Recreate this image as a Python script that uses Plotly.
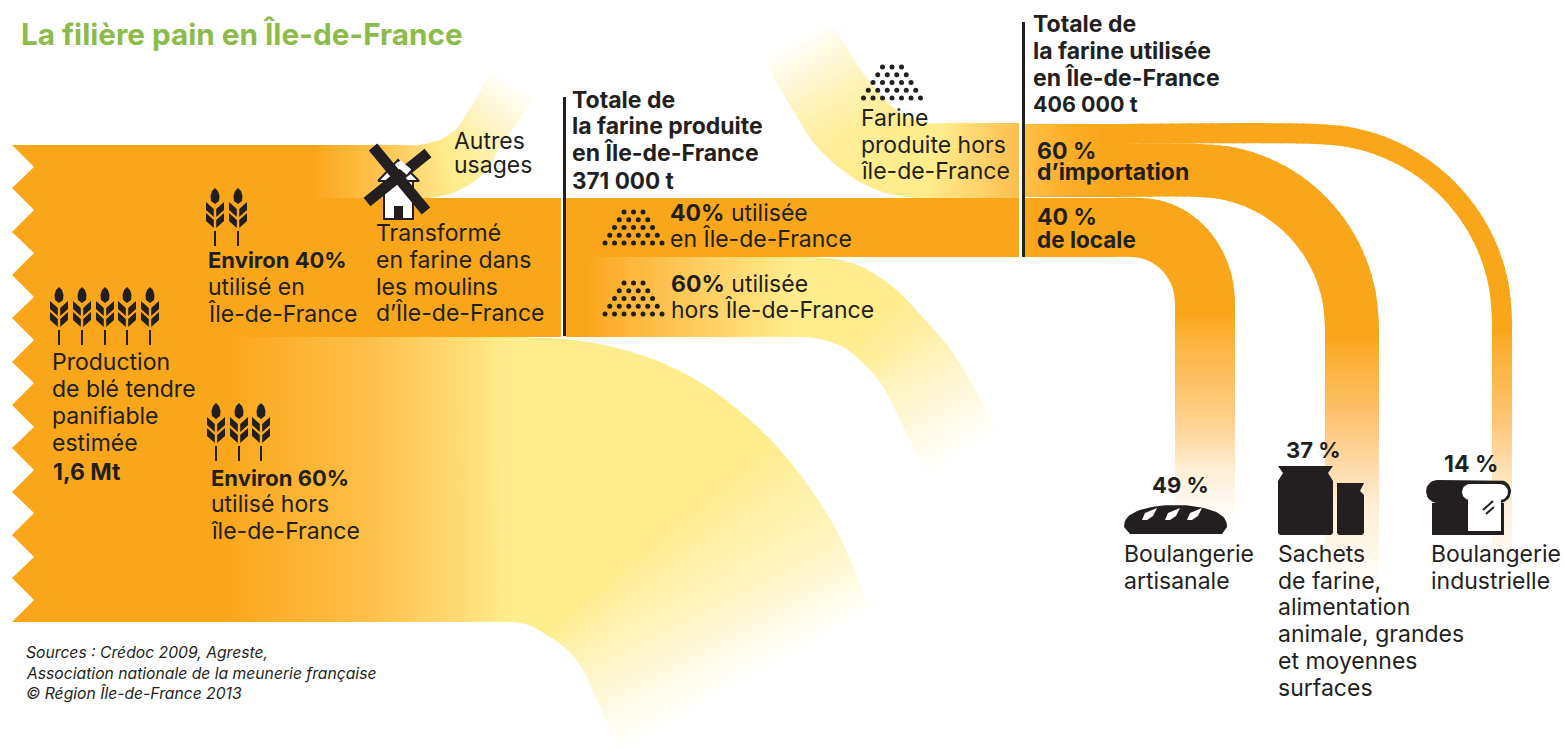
import numpy as np
import plotly.graph_objects as go

W, H = 1564, 749
ORANGE = "#FAA61A"; YELLOW = "#FFEC8C"; WHITE = "#FFFFFF"; INK = "#231F20"; GREEN = "#8DBB4A"
BODY_FONT = "Inter"; BODY_SIZE = 23

# ---- flows: cross-sections (edge A, edge B, colour) along each ribbon ----
WHEAT_OUT = [((200,337),(200,622),ORANGE),((225,337),(225,622),ORANGE),((350,337),(350,622),"#FDBC42"),
             ((440,337),(440,622),"#FFD56B"),((505,337),(505,622),YELLOW),((589,342),(521,623),YELLOW),
             ((663,363),(531,626),YELLOW),((715,392),(537,629),YELLOW),((767,436),(545,634),YELLOW),
             ((804,480),(563,646),"#FEF0A6"),((838,533),(580,665),"#FEF4BE"),((856,575),(600,707),"#FEFAE0"),
             ((870,610),(620,752),WHITE)]
FLOUR_OUT = [((566,257),(566,337),ORANGE),((585,257),(585,337),ORANGE),((650,257),(650,337),"#FEBD47"),
             ((720,257),(720,337),"#FFD46A"),((790,257),(790,337),YELLOW),((850,262),(815,338),YELLOW),
             ((893,287),(845,348),YELLOW),((925,320),(866,366),"#FEEE9E"),((950,349),(882,385),"#FEF3BC"),
             ((974,388),(905,430),"#FEF9DD"),((998,432),(927,475),WHITE)]
OTHER_USES = [((310,145),(310,198),ORANGE),((345,145),(345,198),"#FDB434"),((390,145),(390,198),"#FEC85A"),
              ((420,145),(425,198),"#FFDB78"),((440,140),(455,192),YELLOW),((457,128),(485,172),"#FEEE9E"),
              ((467,113),(500,147),"#FEF3BC"),((480,92),(518,122),"#FEF9DD"),((492,70),(536,96),WHITE)]
FLOUR_IN = [((828,18),(762,55),WHITE),((845,45),(778,85),"#FEF9DD"),((862,72),(793,110),"#FEF3BC"),
            ((885,100),(817,147),"#FEEE9E"),((905,116),(860,182),YELLOW),((927,123),(893,195),YELLOW),
            ((945,123),(925,198),YELLOW),((1000,123),(1000,198),"#FEC65A"),((1019,123),(1019,198),"#FDBE4D")]

# destination ribbons: y-top, y-bottom of the band, arc start x, arc centre y, outer/inner right x, fade end
DEST_NAMES = ["locale", "sachets", "industrielle"]
DEST_TOP = [198, 144, 124]
DEST_BOTTOM = [257, 197, 144]
DEST_ARC_X_OUT = [1140, 1200, 1315]
DEST_ARC_X_IN = [1131, 1197, 1315]
DEST_ARC_Y = [303, 327, 320]
DEST_RIGHT_OUT = [1235, 1379, 1512]
DEST_RIGHT_IN = [1175, 1325, 1492]
DEST_MID_Y = [420, 420, 420]
DEST_MID_COL = ["#FFD18F", "#FEC475", "#FEC675"]
DEST_END_Y = [520, 592, 572]

ZIGZAG_OUT_Y = [145,188,232,275,318,362,405,448,492,535,578,622]
ZIGZAG_IN_Y = [167,210,253,297,340,383,427,470,513,557,600]

WHEAT_X = {"prod": [59,82,105,127,150], "in": [215,238], "out": [216,239,261]}
WHEAT_Y = {"prod": 287, "in": 188, "out": 403}
PILE_CENTER = [(633.5,212),(633.5,283),(892,67)]
PILE_ROWS = [3,4,5,6,7]

TEXTS = [
 (20,34,"<b>La filière pain en Île-de-France</b>",29.7,GREEN),
 (453,141,"Autres",BODY_SIZE,INK),(453,165,"usages",BODY_SIZE,INK),
 (207,260,"<b>Environ 40%</b>",22,INK),(207,287,"utilisé en",BODY_SIZE,INK),(207,314,"Île-de-France",BODY_SIZE,INK),
 (375,233,"Transformé",BODY_SIZE,INK),(375,260,"en farine dans",BODY_SIZE,INK),(375,287,"les moulins",BODY_SIZE,INK),(375,313,"d’Île-de-France",BODY_SIZE,INK),
 (51,362,"Production",BODY_SIZE,INK),(51,389,"de blé tendre",BODY_SIZE,INK),(51,416,"panifiable",BODY_SIZE,INK),(51,443,"estimée",BODY_SIZE,INK),(52,472,"<b>1,6 Mt</b>",BODY_SIZE,INK),
 (210,478,"<b>Environ 60%</b>",22,INK),(210,504,"utilisé hors",BODY_SIZE,INK),(210,531,"île-de-France",BODY_SIZE,INK),
 (571,100,"<b>Totale de</b>",BODY_SIZE,INK),(571,126,"<b>la farine produite</b>",BODY_SIZE,INK),(571,153,"<b>en Île-de-France</b>",BODY_SIZE,INK),(571,180,"<b>371 000 t</b>",22.5,INK),
 (669,213,"<b>40%</b> utilisée",BODY_SIZE,INK),(669,239,"en Île-de-France",BODY_SIZE,INK),
 (670,284,"<b>60%</b> utilisée",BODY_SIZE,INK),(670,310,"hors Île-de-France",BODY_SIZE,INK),
 (860,118,"Farine",BODY_SIZE,INK),(860,145,"produite hors",BODY_SIZE,INK),(860,171,"île-de-France",BODY_SIZE,INK),
 (1032,24,"<b>Totale de</b>",BODY_SIZE,INK),(1032,51,"<b>la farine utilisée</b>",BODY_SIZE,INK),(1032,78,"<b>en Île-de-France</b>",BODY_SIZE,INK),(1032,104,"<b>406 000 t</b>",21.5,INK),
 (1036,151,"<b>60 %</b>",BODY_SIZE,INK),(1036,172,"<b>d’importation</b>",BODY_SIZE,INK),(1036,217,"<b>40 %</b>",BODY_SIZE,INK),(1036,239,"<b>de locale</b>",22.5,INK),
 (1151,485,"<b>49 %</b>",22,INK),(1285,450,"<b>37 %</b>",22,INK),(1443,464,"<b>14 %</b>",BODY_SIZE,INK),
 (1123,554,"Boulangerie",BODY_SIZE,INK),(1123,581,"artisanale",BODY_SIZE,INK),
 (1277,554,"Sachets",BODY_SIZE,INK),(1277,581,"de farine,",BODY_SIZE,INK),(1277,607,"alimentation",BODY_SIZE,INK),(1277,634,"animale, grandes",BODY_SIZE,INK),(1277,661,"et moyennes",BODY_SIZE,INK),(1277,688,"surfaces",BODY_SIZE,INK),
 (1430,554,"Boulangerie",BODY_SIZE,INK),(1430,581,"industrielle",BODY_SIZE,INK),
 (25,652,"<i>Sources : Crédoc 2009, Agreste,</i>",15.7,INK),(25,673,"<i>Association nationale de la meunerie française</i>",15.7,INK),(25,693,"<i>© Région Île-de-France 2013</i>",15.7,INK),
]

fig = go.Figure()


def hex2rgb(c):
    c = c.lstrip("#")
    return np.array([int(c[i:i+2], 16) for i in (0, 2, 4)], float)


def poly(xs, ys, color, line=None, lw=0):
    fig.add_trace(go.Scatter(x=list(xs), y=list(ys), mode="lines", fill="toself", fillcolor=color,
                             line=dict(color=line or color, width=lw), hoverinfo="skip", showlegend=False))


def catmull(pts, ns):
    pts = np.array(pts, float)
    p = np.vstack([2*pts[0]-pts[1], pts, 2*pts[-1]-pts[-2]])
    out = []
    for i in range(1, len(p)-2):
        p0, p1, p2, p3 = p[i-1], p[i], p[i+1], p[i+2]
        t0 = 0.0
        t1 = t0 + max(np.linalg.norm(p1-p0), 1e-6)**0.5
        t2 = t1 + max(np.linalg.norm(p2-p1), 1e-6)**0.5
        t3 = t2 + max(np.linalg.norm(p3-p2), 1e-6)**0.5
        for u in np.linspace(0, 1, ns[i-1], endpoint=False):
            t = t1 + u*(t2-t1)
            a1 = (t1-t)/(t1-t0)*p0 + (t-t0)/(t1-t0)*p1
            a2 = (t2-t)/(t2-t1)*p1 + (t-t1)/(t2-t1)*p2
            a3 = (t3-t)/(t3-t2)*p2 + (t-t2)/(t3-t2)*p3
            b1 = (t2-t)/(t2-t0)*a1 + (t-t0)/(t2-t0)*a2
            b2 = (t3-t)/(t3-t1)*a2 + (t-t1)/(t3-t1)*a3
            out.append((t2-t)/(t2-t1)*b1 + (t-t1)/(t2-t1)*b2)
    out.append(pts[-1])
    return np.array(out)


def ribbon(stations, step=5):
    A = np.array([s[0] for s in stations], float); B = np.array([s[1] for s in stations], float)
    cols = [hex2rgb(s[2]) for s in stations]
    ns = []
    for i in range(len(stations)-1):
        same = np.array_equal(cols[i], cols[i+1])
        ln = max(np.linalg.norm(A[i+1]-A[i]), np.linalg.norm(B[i+1]-B[i]))
        ns.append(max(2, int(np.ceil(ln/(step*3 if same else step)))))
    a = catmull(A, ns); b = catmull(B, ns)
    c = []
    for i in range(len(cols)-1):
        for u in np.linspace(0, 1, ns[i], endpoint=False):
            c.append(cols[i]*(1-u) + cols[i+1]*u)
    c.append(cols[-1])
    for i in range(len(a)-2, -1, -1):
        j = min(i+2, len(a)-1)
        ea = a[i+1] + 0.25*(a[j]-a[i+1]); eb = b[i+1] + 0.25*(b[j]-b[i+1])
        col = (c[i]+c[i+1])/2
        if col.min() > 253.5:
            continue
        poly([a[i][0], ea[0], eb[0], b[i][0], a[i][0]], [a[i][1], ea[1], eb[1], b[i][1], a[i][1]],
             "rgb(%d,%d,%d)" % tuple(col.round()))


def dest_stations(k):
    mix = lambda f: "#%02X%02X%02X" % tuple(int(round(v)) for v in hex2rgb(ORANGE)*(1-f) + 255*f)
    st = []
    xo, xi = DEST_ARC_X_OUT[k], DEST_ARC_X_IN[k]
    top, bot = DEST_TOP[k], DEST_BOTTOM[k]
    yc = DEST_ARC_Y[k]
    if k > 0:
        st += [((1025, top), (1025, bot), "#FEC048"), ((1060, top), (1060, bot), "#FCB02E"), ((1105, top), (1105, bot), ORANGE)]
    else:
        st += [((1025, top), (1025, bot), ORANGE), ((1100, top), (1100, bot), ORANGE)]
    for ang in np.linspace(0, 90, 9):
        s, co = np.sin(np.radians(ang)), np.cos(np.radians(ang))
        st.append(((xo + (DEST_RIGHT_OUT[k]-xo)*s, yc - (yc-top)*co), (xi + (DEST_RIGHT_IN[k]-xi)*s, yc - (yc-bot)*co), ORANGE))
    x1, x2 = DEST_RIGHT_OUT[k], DEST_RIGHT_IN[k]
    ym, ye = DEST_MID_Y[k], DEST_END_Y[k]
    st.append(((x1, yc+12), (x2, yc+12), ORANGE))
    st.append(((x1, ym), (x2, ym), DEST_MID_COL[k]))
    st.append(((x1, (ym+ye)/2), (x2, (ym+ye)/2), mix(0.82)))
    st.append(((x1, ye), (x2, ye), WHITE))
    return st


# ---- flows ----
for k in [2, 1, 0]:
    ribbon(dest_stations(k), 3)
ribbon(FLOUR_IN, 5)
ribbon(OTHER_USES, 4)
ribbon(WHEAT_OUT, 5)
ribbon(FLOUR_OUT, 5)

# main wheat band with its torn left edge
zx, zy = [], []
for i, y in enumerate(ZIGZAG_OUT_Y[::-1]):
    zx.append(12); zy.append(y)
    if i < len(ZIGZAG_IN_Y):
        zx.append(34); zy.append(ZIGZAG_IN_Y[::-1][i])
poly([12, 320, 320, 561, 561, 226, 226, 12] + zx[1:], [145, 145, 198, 198, 337, 337, 622, 622] + zy[1:], ORANGE)
ribbon(OTHER_USES[:5], 4)
# flat flow of the 40 % flour
poly([566, 1019, 1019, 566, 566], [198, 198, 257, 257, 198], ORANGE)

# separators
for x, y0, y1 in [(564.5, 97, 336), (1023.5, 22, 257)]:
    fig.add_trace(go.Scatter(x=[x, x], y=[y0, y1], mode="lines", line=dict(color=INK, width=3),
                             hoverinfo="skip", showlegend=False))


def multi(polys, color):
    xs, ys = [], []
    for p in polys:
        xs += [q[0] for q in p] + [p[0][0], None]
        ys += [q[1] for q in p] + [p[0][1], None]
    poly(xs, ys, color)


def wheat(cx, top):
    P = []
    P.append([(cx, top), (cx+3, top+3), (cx+4.5, top+8), (cx+4, top+13), (cx, top+16), (cx-4, top+13), (cx-4.5, top+8), (cx-3, top+3)])
    for s in (-1, 1):
        for dy in (14, 25):
            P.append([(cx+s*9, top+dy), (cx+s*1.2, top+dy+7), (cx+s*1.2, top+dy+15), (cx+s*9, top+dy+8)])
    P.append([(cx-1, top+43), (cx+1, top+43), (cx+1, top+58), (cx-1, top+58)])
    multi(P, INK)


for key in WHEAT_X:
    for x in WHEAT_X[key]:
        wheat(x, WHEAT_Y[key])

# flour piles
px, py = [], []
for cx, top in PILE_CENTER:
    for r, count in enumerate(PILE_ROWS):
        for d in range(count):
            px.append(cx + (d-(count-1)/2)*9.5)
            py.append(top + r*7.75)
fig.add_trace(go.Scatter(x=px, y=py, mode="markers", marker=dict(color=INK, size=5), hoverinfo="skip", showlegend=False))


# windmill
def bar(x0, y0, x1, y1, w):
    d = np.array([x1-x0, y1-y0], float); d /= np.linalg.norm(d)
    n = np.array([-d[1], d[0]])*w/2
    return [(x0+n[0], y0+n[1]), (x1+n[0], y1+n[1]), (x1-n[0], y1-n[1]), (x0-n[0], y0-n[1])]


poly([384, 413, 413, 384, 384], [180, 180, 219, 219, 180], WHITE, INK, 2)
poly([378, 398, 419, 378], [181, 160, 181, 181], WHITE, INK, 2)
multi([bar(373, 147, 426, 211, 11), bar(428, 153, 367, 202, 11)], INK)
multi([bar(398, 163, 409, 172, 7)], WHITE)
poly([394, 403, 403, 394, 394], [206, 206, 218, 218, 206], INK)


# baguette
def baguette():
    t = np.linspace(0, np.pi, 40)
    xs = list(1175.5 - 51.5*np.cos(t))
    ys = list(527 - 22*np.sin(t)**0.8)
    xs += [1227, 1222, 1130, 1124]; ys += [527, 534, 534, 527]
    poly(xs, ys, INK)
    for cx in [1150, 1173, 1195]:
        poly([cx-8, cx-5, cx+7, cx+3, cx-3], [520, 513, 508, 516, 520], WHITE)


baguette()
# bags of flour
poly([1278, 1333, 1328, 1333, 1333, 1331, 1280, 1278, 1278, 1283, 1278],
     [466, 466, 473, 481, 533, 535, 535, 533, 481, 473, 466], INK)
poly([1337, 1364, 1360, 1364, 1364, 1362, 1339, 1337, 1337],
     [483, 483, 491, 495, 533, 535, 535, 533, 483], INK)


# sliced bread
def loaf(x0, x1, y0, y1, bx0, bx1, yb, color, line=None, lw=0):
    r = (y1-y0)/2
    t = np.linspace(0, np.pi/2, 10)
    xs = list(x0 + r - r*np.cos(t)) + list(x1 - r + r*np.sin(t))
    ys = list(y0 + r - r*np.sin(t)) + list(y0 + r - r*np.cos(t))
    t2 = np.linspace(0, np.pi/2, 8)
    xs += list(x1 - r + r*np.cos(t2)) + [bx1, bx1, bx0, bx0] + list(x0 + r - r*np.sin(t2))
    ys += list(y0 + r + r*np.sin(t2)) + [y1, yb, yb, y1] + list(y0 + r + r*np.cos(t2))
    poly(xs + [xs[0]], ys + [ys[0]], color, line, lw)


loaf(1426, 1511, 480, 503, 1432, 1504, 535, INK)
loaf(1462, 1508, 484, 500, 1468, 1501, 531, WHITE)
multi([bar(1483, 510, 1493, 501, 2), bar(1486, 514, 1494, 507, 2)], INK)

annotations = [dict(x=x, y=y, text=t, xref="x", yref="y", xanchor="left", yanchor="middle", showarrow=False,
                    borderpad=0, font=dict(family=BODY_FONT, size=s, color=c)) for x, y, t, s, c in TEXTS]

fig.update_layout(width=W, height=H, margin=dict(l=0, r=0, t=0, b=0), paper_bgcolor="white", plot_bgcolor="white",
                  xaxis=dict(range=[0, W], visible=False, fixedrange=True),
                  yaxis=dict(range=[H, 0], visible=False, fixedrange=True),
                  showlegend=False, annotations=annotations)
fig.write_html("out.html", config={"displayModeBar": False},
               post_script="document.body.style.margin='0';document.documentElement.style.overflow='hidden';")
